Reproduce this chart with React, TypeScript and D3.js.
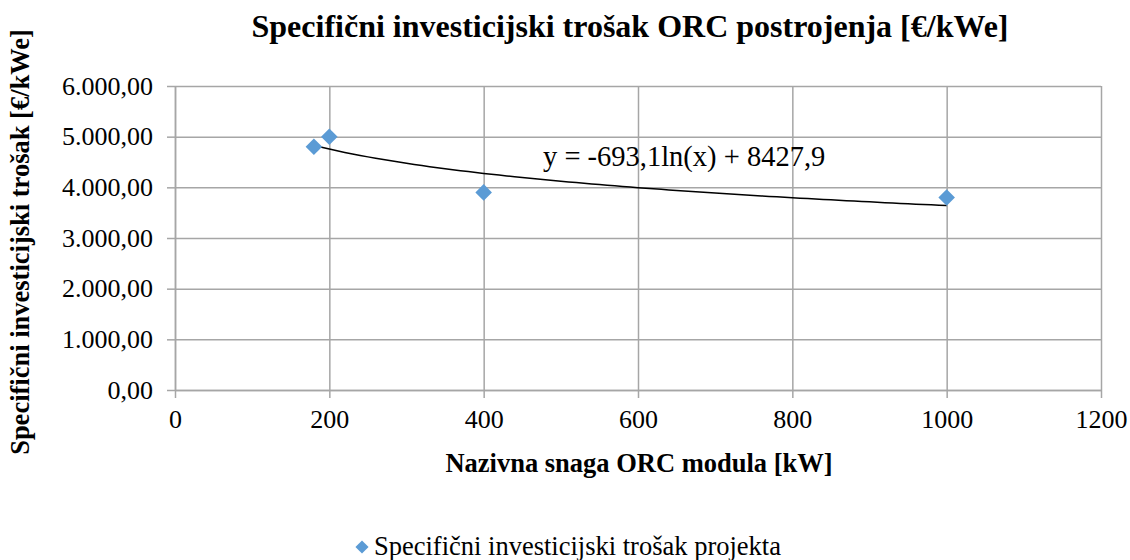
import React, { useEffect, useRef } from "react";
import * as d3 from "d3";

// snaga ORC modula [kW] i specifični trošak [€/kWe]
const snaga = [180, 200, 400, 1000];
const trosak = [4800, 5000, 3900, 3800];
const xTicks = [0, 200, 400, 600, 800, 1000, 1200];
const yTicks = [0, 1000, 2000, 3000, 4000, 5000, 6000];
// koeficijenti logaritamskog trenda, očitani s grafa
const trendSlope = -693.1;
const trendIntercept = 8427.9;

const title = "Specifični investicijski trošak ORC postrojenja [€/kWe]";
const xTitle = "Nazivna snaga ORC modula [kW]";
const yTitle = "Specifični investicijski trošak [€/kWe]";
const seriesName = "Specifični investicijski trošak projekta";

const App = () => {
  const ref = useRef<SVGSVGElement>(null);

  useEffect(() => {
    document.body.style.margin = "0";
    const svg = d3.select(ref.current);
    svg.selectAll("*").remove();
    const width = 1130;
    const height = 560;
    const marginLeft = 175;
    const marginRight = 29;
    const marginTop = 86;
    const marginBottom = 170;
    const grid = "#a6a6a6";
    const blue = "#5b9bd5";
    const font = "'Liberation Serif', 'Times New Roman', serif";

    const x = d3.scaleLinear().domain([0, 1200]).range([marginLeft, width - marginRight]);
    const y = d3.scaleLinear().domain([0, 6000]).range([height - marginBottom, marginTop]);

    const loc = d3.formatLocale({ decimal: ",", thousands: ".", grouping: [3], currency: ["", ""] });
    const fmt = loc.format(",.2f");

    svg.attr("width", width).attr("height", height).attr("viewBox", [0, 0, width, height])
      .style("font-family", font);

    svg.append("rect").attr("width", width).attr("height", height).attr("fill", "white");

    // mreža
    svg.append("g")
      .attr("transform", `translate(0,${height - marginBottom})`)
      .call(d3.axisBottom(x).tickValues(xTicks).tickSize(-(height - marginBottom - marginTop)).tickFormat(() => ""))
      .call((g) => g.select(".domain").remove())
      .call((g) => g.selectAll("line").attr("stroke", grid).attr("stroke-width", 1.5));
    svg.append("g")
      .attr("transform", `translate(${marginLeft},0)`)
      .call(d3.axisLeft(y).tickValues(yTicks).tickSize(-(width - marginLeft - marginRight)).tickFormat(() => ""))
      .call((g) => g.select(".domain").remove())
      .call((g) => g.selectAll("line").attr("stroke", grid).attr("stroke-width", 1.5));

    // osi
    svg.append("g")
      .attr("transform", `translate(0,${height - marginBottom})`)
      .call(d3.axisBottom(x).tickValues(xTicks).tickSizeInner(8).tickSizeOuter(0).tickPadding(12).tickFormat(d3.format("d")))
      .call((g) => g.selectAll("line, path").attr("stroke", grid).attr("stroke-width", 1.5))
      .call((g) => g.selectAll("text").attr("font-size", 26).attr("fill", "#000").attr("font-family", font));
    svg.append("g")
      .attr("transform", `translate(${marginLeft},0)`)
      .call(d3.axisLeft(y).tickValues(yTicks).tickSizeInner(8).tickSizeOuter(0).tickPadding(14).tickFormat((d) => fmt(d as number)))
      .call((g) => g.selectAll("line, path").attr("stroke", grid).attr("stroke-width", 1.5))
      .call((g) => g.selectAll("text").attr("font-size", 26).attr("fill", "#000").attr("font-family", font));

    // trend
    const trendX = d3.range(d3.min(snaga)!, d3.max(snaga)! + 1, 10);
    const line = d3.line<number>()
      .x((d) => x(d))
      .y((d) => y(trendSlope * Math.log(d) + trendIntercept));
    svg.append("path").datum(trendX).attr("d", line).attr("fill", "none")
      .attr("stroke", "#000").attr("stroke-width", 1.5);

    // točke
    const diamond = d3.symbol().type(d3.symbolDiamond2).size(175);
    svg.append("g").selectAll("path").data(snaga).join("path")
      .attr("d", diamond)
      .attr("transform", (d, i) => `translate(${x(d)},${y(trosak[i])})`)
      .attr("fill", blue);

    const num = (v: number) => v.toFixed(1).replace(".", ",");
    svg.append("text").attr("x", 543).attr("y", 166).attr("font-size", 28.5)
      .text(`y = ${num(trendSlope)}ln(x) + ${num(trendIntercept)}`);

    // naslovi
    svg.append("text").attr("x", 630).attr("y", 37).attr("text-anchor", "middle")
      .attr("font-size", 32).attr("font-weight", "bold").text(title);
    svg.append("text").attr("x", 639).attr("y", 472).attr("text-anchor", "middle")
      .attr("font-size", 26.5).attr("font-weight", "bold").text(xTitle);
    svg.append("text").attr("transform", `translate(29,242) rotate(-90)`).attr("text-anchor", "middle")
      .attr("font-size", 26.5).attr("font-weight", "bold").text(yTitle);

    // legenda
    const lg = svg.append("g").attr("transform", "translate(362,547)");
    lg.append("path").attr("d", d3.symbol().type(d3.symbolDiamond2).size(110)).attr("fill", blue);
    lg.append("text").attr("x", 12).attr("y", 8).attr("font-size", 26.5).text(seriesName);
  }, []);

  return <svg ref={ref} style={{ display: "block" }} />;
};

export default App;
